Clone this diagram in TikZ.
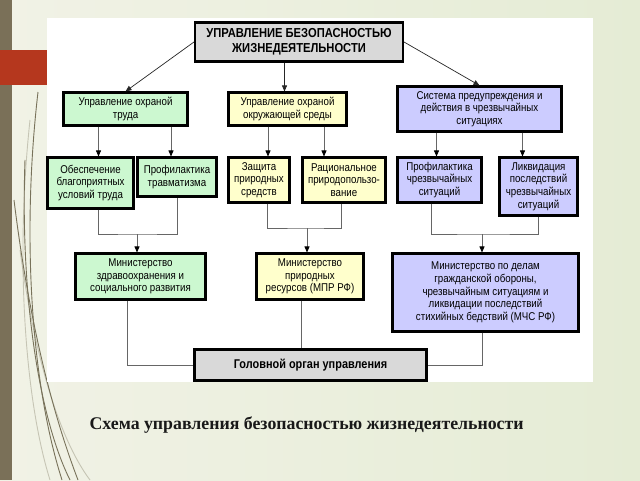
\documentclass[tikz,border=0pt]{standalone}
\usepackage{fontspec}
\setmainfont{Liberation Sans}
\newfontfamily\narrowfont{Liberation Sans}[FakeStretch=0.86]
\newfontfamily\captionfont{Liberation Serif}
\usetikzlibrary{arrows.meta}
\definecolor{bgleft}{RGB}{241,242,230}
\definecolor{bgright}{RGB}{229,236,213}
\definecolor{barcolor}{RGB}{122,112,88}
\definecolor{redbox}{RGB}{181,55,30}
\definecolor{wispcolor}{RGB}{120,114,90}
\definecolor{boxgray}{RGB}{217,217,217}
\definecolor{boxgreen}{RGB}{204,248,208}
\definecolor{boxyellow}{RGB}{255,255,204}
\definecolor{boxpurple}{RGB}{204,204,255}

\begin{document}
\begin{tikzpicture}[x=1pt,y=-1pt,
		box/.style={draw=black, line width=2.1pt, align=center, inner sep=1pt, text=black, font=\narrowfont\fontsize{11.3}{12.7}\selectfont},
		arr/.style={-{Triangle[length=6pt,width=5pt]}, draw=black!85, line width=0.7pt},
		garr/.style={-{Triangle[length=6pt,width=5pt,color=black]}, draw=black!60, line width=0.8pt},
		link/.style={draw=black!60, line width=0.8pt},
		wisp/.style={draw=wispcolor, line width=0.9pt}]
		\useasboundingbox (0,0) rectangle (640,480);
		\shade[left color=bgleft, right color=bgright] (0,0) rectangle (640,480);
		\fill[barcolor] (0,0) rectangle (12,480);
		\draw[wisp] (38,92) .. controls (22,230) and (30,380) .. (62,480);
		\draw[wisp] (14,200) .. controls (30,330) and (55,420) .. (78,480);
		\draw[wisp] (25,160) .. controls (20,300) and (40,420) .. (70,480);
		\draw[wisp, opacity=0.35] (30,120) .. controls (15,260) and (25,400) .. (50,480);
		\draw[wisp, opacity=0.35] (20,250) .. controls (35,360) and (60,440) .. (90,480);
		\fill[redbox] (0,50) rectangle (47,85);
		\fill[white] (47,18) rectangle (593,382);

		\node[box, fill=boxgray, minimum width=208, minimum height=39, font=\narrowfont\bfseries\fontsize{13}{15}\selectfont] (top) at (299,42) {УПРАВЛЕНИЕ БЕЗОПАСНОСТЬЮ\\ЖИЗНЕДЕЯТЕЛЬНОСТИ};

		\node[box, fill=boxgreen, minimum width=124, minimum height=33] (r2g) at (125.5,109) {Управление охраной\\труда};
		\node[box, fill=boxyellow, minimum width=118, minimum height=33] (r2y) at (287.5,109) {Управление охраной\\окружающей среды};
		\node[box, fill=boxpurple, minimum width=164, minimum height=45] (r2p) at (479.5,109) {Система предупреждения и\\действия в чрезвычайных\\ситуациях};

		\node[box, fill=boxgreen, minimum width=86, minimum height=51] (r3g1) at (90.5,183) {Обеспечение\\благоприятных\\условий труда};
		\node[box, fill=boxgreen, minimum width=79, minimum height=39] (r3g2) at (177,177) {Профилактика\\травматизма};
		\node[box, fill=boxyellow, minimum width=61, minimum height=45] (r3y1) at (259,180) {Защита\\природных\\средств};
		\node[box, fill=boxyellow, minimum width=83, minimum height=45] (r3y2) at (344,180) {Рациональное\\природопользо-\\вание};
		\node[box, fill=boxpurple, minimum width=84, minimum height=45] (r3p1) at (439.5,180) {Профилактика\\чрезвычайных\\ситуаций};
		\node[box, fill=boxpurple, minimum width=78, minimum height=58] (r3p2) at (538.5,186.5) {Ликвидация\\последствий\\чрезвычайных\\ситуаций};

		\node[box, fill=boxgreen, minimum width=130, minimum height=46] (r4g) at (140.5,276.5) {Министерство\\здравоохранения и\\социального развития};
		\node[box, fill=boxyellow, minimum width=107, minimum height=46] (r4y) at (310,276.5) {Министерство\\природных\\ресурсов (МПР РФ)};
		\node[box, fill=boxpurple, minimum width=186, minimum height=78] (r4p) at (485.5,292.5) {Министерство по делам\\гражданской обороны,\\чрезвычайным ситуациям и\\ликвидации последствий\\стихийных бедствий (МЧС РФ)};

		\node[box, fill=boxgray, minimum width=232, minimum height=31, font=\narrowfont\bfseries\fontsize{12.7}{14}\selectfont] (bot) at (310.5,365) {Головной орган управления};

		\node[anchor=west, text=black!90, font=\captionfont\bfseries\fontsize{17.8}{20}\selectfont] (caption) at (86,425) {Схема управления безопасностью жизнедеятельности};

		\draw[arr] (top.west) -- (r2g.north);
		\draw[arr] ([xshift=-3]r2y.north |- top.south) -- ([xshift=-3]r2y.north);
		\draw[arr] (top.east) -- (r2p.north);

		\draw[garr] ([xshift=8]r3g1.north |- r2g.south) -- ([xshift=8]r3g1.north);
		\draw[garr] ([xshift=-6]r3g2.north |- r2g.south) -- ([xshift=-6]r3g2.north);
		\draw[garr] ([xshift=9]r3y1.north |- r2y.south) -- ([xshift=9]r3y1.north);
		\draw[garr] ([xshift=-20]r3y2.north |- r2y.south) -- ([xshift=-20]r3y2.north);
		\draw[garr] ([xshift=-3]r3p1.north |- r2p.south) -- ([xshift=-3]r3p1.north);
		\draw[garr] ([xshift=-16]r3p2.north |- r2p.south) -- ([xshift=-16]r3p2.north);

		\coordinate (jg) at (137,234);
		\coordinate (jy) at (307,228);
		\coordinate (jp) at (482,234);
		\draw[link] ([xshift=8]r3g1.south) |- (jg) -| (r3g2.south);
		\draw[link] ([xshift=8]r3y1.south) |- (jy) -| ([xshift=-3]r3y2.south);
		\draw[link] ([xshift=-8]r3p1.south) |- (jp) -| (r3p2.south);
		\draw[garr] (jg) -- (jg |- r4g.north);
		\draw[garr] (jy) -- (jy |- r4y.north);
		\draw[garr] (jp) -- (jp |- r4p.north);

		\draw[link] ([xshift=-13]r4g.south) |- (bot.west);
		\draw[link] ([xshift=-9]r4y.south) -- ([xshift=-9]r4y.south |- bot.north);
		\draw[link] ([xshift=-3]r4p.south) |- (bot.east);
	\end{tikzpicture}
\end{document}
